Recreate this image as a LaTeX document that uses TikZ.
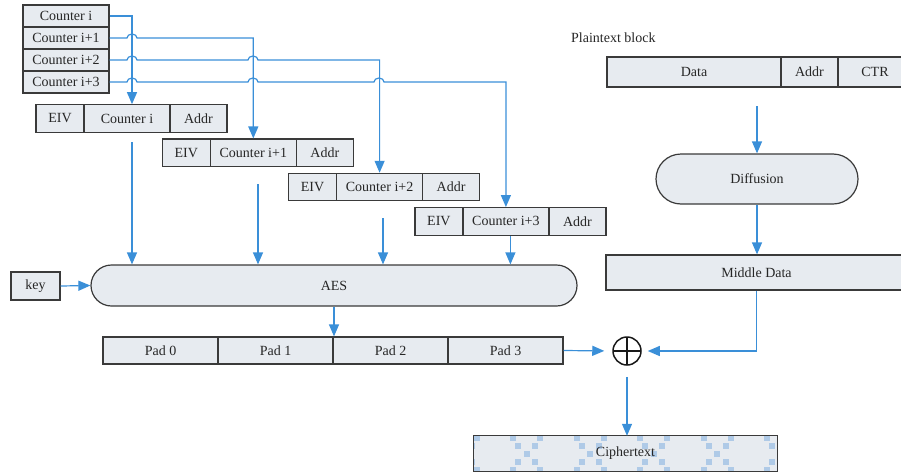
\documentclass[tikz,border=0pt]{standalone}
\usepackage{fontspec}
\setmainfont{Liberation Serif}
\usetikzlibrary{arrows.meta,calc}
\definecolor{boxfill}{HTML}{E7EBF0}
\definecolor{edge}{HTML}{3A3A3A}
\definecolor{flow}{HTML}{3A8FD8}
\definecolor{check}{HTML}{AFCAE7}

\begin{document}
\begin{tikzpicture}[x=1pt,y=-1pt,
  every node/.style={font=\fontsize{14}{16}\selectfont, text=black!85, inner sep=0pt},
  cell/.style={draw=edge, fill=boxfill, line width=1.2pt},
  pill/.style={cell, rounded corners=#1},
  flow/.style={draw=flow, line width=1.2pt, -{Triangle[length=12pt,width=10pt]}},
  wire/.style={draw=flow, line width=1.2pt}
]
\useasboundingbox (0,0) rectangle (901,474);

% counter stack
\node[cell, minimum width=86pt, minimum height=22pt] (ctr0) at (66,16) {Counter i};
\node[cell, minimum width=86pt, minimum height=22pt] (ctr1) at (66,38) {Counter i+1};
\node[cell, minimum width=86pt, minimum height=22pt] (ctr2) at (66,60) {Counter i+2};
\node[cell, minimum width=86pt, minimum height=22pt] (ctr3) at (66,82) {Counter i+3};

% EIV | Counter | Addr blocks
\foreach \k/\lab in {0/i,1/i+1,2/i+2,3/i+3} {
  \pgfmathsetmacro\bx{36+126.3*\k}
  \pgfmathsetmacro\by{118.5+34.3*\k}
  \node[cell, minimum width=48pt, minimum height=27.5pt] (eiv\k) at (\bx+24,\by) {EIV};
  \node[cell, minimum width=86pt, minimum height=27.5pt] (cnt\k) at (\bx+91,\by) {Counter \lab};
  \node[cell, minimum width=57pt, minimum height=27.5pt] (adr\k) at (\bx+162.5,\by) {Addr};
}

% counters fan out to the blocks (with hops over crossings)
\draw[flow] (ctr0.east) -| ([xshift=5pt]cnt0.north);
\draw[flow] (ctr1.east) -- (127,38)
  arc[start angle=180,end angle=0,x radius=5pt,y radius=4pt] -| (cnt1.north);
\draw[flow] (ctr2.east) -- (127,60)
  arc[start angle=180,end angle=0,x radius=5pt,y radius=4pt] -- (248,60)
  arc[start angle=180,end angle=0,x radius=5pt,y radius=4pt] -| (cnt2.north);
\draw[flow] (ctr3.east) -- (127,82)
  arc[start angle=180,end angle=0,x radius=5pt,y radius=4pt] -- (248,82)
  arc[start angle=180,end angle=0,x radius=5pt,y radius=4pt] -- (374,82)
  arc[start angle=180,end angle=0,x radius=5pt,y radius=4pt] -| (cnt3.north);

% AES and key
\node[pill=20.5pt, minimum width=486pt, minimum height=41pt] (aes) at (334,285.5) {AES};
\node[cell, minimum width=49pt, minimum height=28pt] (key) at (35.5,286) {key};
\draw[flow] (key.east) -- (aes.west);

\coordinate (s0) at (132,142);
\coordinate (s1) at (258,184);
\coordinate (s2) at (383,218);
\coordinate (s3) at ([xshift=4.5pt]cnt3.south);
\foreach \s in {s0,s1,s2,s3} \draw[flow] (\s) -- (\s |- aes.north);

% pads
\node[cell, minimum width=115pt, minimum height=27pt] (pad0) at (160.5,350.5) {Pad 0};
\node[cell, minimum width=115pt, minimum height=27pt] (pad1) at (275.5,350.5) {Pad 1};
\node[cell, minimum width=115pt, minimum height=27pt] (pad2) at (390.5,350.5) {Pad 2};
\node[cell, minimum width=115pt, minimum height=27pt] (pad3) at (505.5,350.5) {Pad 3};
\draw[flow] (aes.south) -- (aes.south |- pad1.north);

% plaintext side
\node[anchor=west] (ptlabel) at (571,38) {Plaintext block};
\node[cell, minimum width=174pt, minimum height=30pt] (data) at (694,72) {Data};
\node[cell, minimum width=57pt, minimum height=30pt] (paddr) at (809.5,72) {Addr};
\node[cell, minimum width=74pt, minimum height=30pt] (ctr) at (875,72) {CTR};
\node[pill=25pt, minimum width=202pt, minimum height=50pt] (diff) at (757,179) {Diffusion};
\node[cell, minimum width=301pt, minimum height=35pt] (mid) at (756.5,272.5) {Middle Data};
\coordinate (d0) at (757,106);
\draw[flow] (d0) -- (d0 |- diff.north);
\draw[flow] (diff.south) -- (diff.south |- mid.north);

% XOR
\node[draw=black!90, line width=1.5pt, circle, minimum size=28pt,
  path picture={\draw[black!90, line width=1.5pt]
    (path picture bounding box.north) -- (path picture bounding box.south)
    (path picture bounding box.west) -- (path picture bounding box.east);}] (xor) at (627,351) {};
\draw[flow, shorten >=8pt] (pad3.east) -- (xor.west);
\draw[flow, shorten >=6pt] (mid.south) |- (xor.east);

% ciphertext with checker motif
\node[fill=boxfill, minimum width=303pt, minimum height=35pt] (cipher) at (625.5,453.5) {};
\begin{scope}
  \clip (cipher.south west) rectangle (cipher.north east);
  \foreach \k in {-1,...,5} {
    \foreach \dx/\dy in {0/0,-8.5/-8,8.5/-8,-8.5/8,8.5/8,-13.5/-16,13.5/-16,-13.5/16,13.5/16} {
      \fill[check] (463+63.5*\k+\dx-3,453.5+\dy-3) rectangle ++(6,6);
    }
  }
\end{scope}
\draw[edge, line width=1.2pt] (cipher.south west) rectangle (cipher.north east);
\node (ctext) at (cipher.center) {Ciphertext};
\draw[flow, shorten <=11pt] (xor.south) -- (xor.south |- cipher.north);
\end{tikzpicture}
\end{document}
